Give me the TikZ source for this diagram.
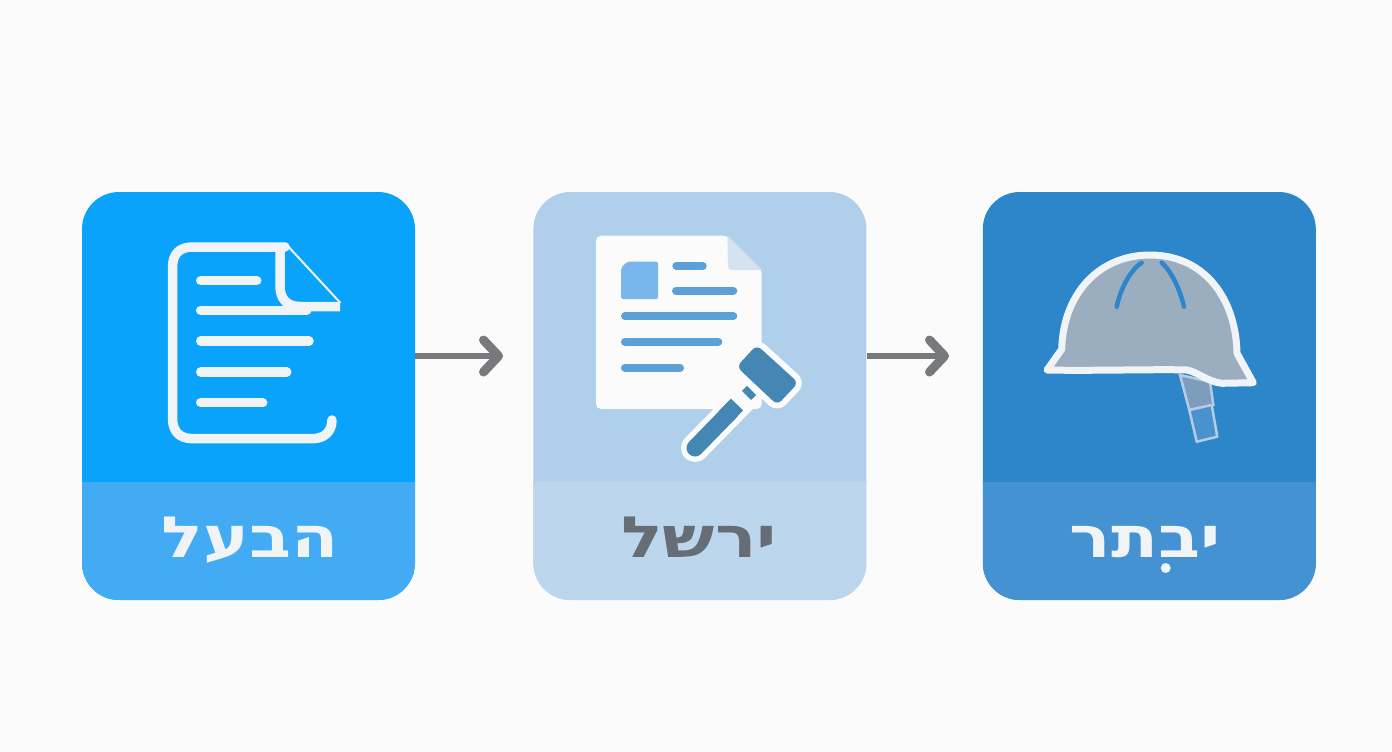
\documentclass[tikz,border=0pt]{standalone}
\usepackage{fontspec}
\usetikzlibrary{arrows.meta,positioning}
\newfontfamily\hebfont[Script=Hebrew,FakeStretch=1.21]{DejaVu Sans}
\TeXXeTstate=1
\definecolor{pagebg}{HTML}{FBFBFC}
\definecolor{cardone}{HTML}{0AA3FB}
\definecolor{bandone}{HTML}{42ABF3}
\definecolor{cardtwo}{HTML}{AFCFEA}
\definecolor{bandtwo}{HTML}{BCD6EE}
\definecolor{cardthree}{HTML}{2D86C9}
\definecolor{bandthree}{HTML}{4592D2}
\definecolor{paleline}{HTML}{F1F4F6}
\definecolor{paperline}{HTML}{5BA0D6}
\definecolor{paperbox}{HTML}{7AB6EE}
\definecolor{paperfold}{HTML}{D5E3F0}
\definecolor{hammerblue}{HTML}{4487B5}
\definecolor{helmetgrey}{HTML}{9AAEC0}
\definecolor{strapgrey}{HTML}{7E9CBC}
\definecolor{strapline}{HTML}{B5CCE6}
\definecolor{strapfill}{HTML}{4A92CE}
\definecolor{arrowgrey}{HTML}{77797D}
\definecolor{textgrey}{HTML}{666D75}
\tikzset{
  card/.style 2 args={rectangle,rounded corners=37pt,fill=#1,minimum width=333pt,minimum height=408pt,
    path picture={\fill[#2,sharp corners] ([yshift=118pt]path picture bounding box.south west) rectangle (path picture bounding box.south east);}},
  cardlabel/.style={font=\hebfont\bfseries\fontsize{57}{57}\selectfont,inner sep=0pt,anchor=base},
  flowarrow/.style={draw=arrowgrey,line width=6.5pt,-{Straight Barb[length=15pt,width=32pt,line width=9pt,round]}},
  iconline/.style={line width=9.5pt,line cap=round,draw=paleline},
  paperbar/.style={line width=8pt,line cap=round,draw=paperline},
}
\begin{document}
\begin{tikzpicture}[x=1pt,y=-1pt]
  \useasboundingbox[fill=pagebg] (0,0) rectangle (1392,752);
  \node[card={cardone}{bandone}] (act) at (248.5,396) {};
  \node[card={cardtwo}{bandtwo},right=118pt of act] (law) {};
  \node[card={cardthree}{bandthree},right=116pt of law] (vow) {};
  \node[cardlabel,text=paleline] (actlabel) at (250,557) {\beginR הבעל\endR};
  \node[cardlabel,text=textgrey] (lawlabel) at (699,557) {\beginR ירשל\endR};
  \node[cardlabel,text=paleline] (vowlabel) at (1145,557) {\beginR יבתר\endR};
  \fill[paleline] (1165.7,568) circle (5pt);
  % arrows
  \coordinate (acttip) at (503,356);
  \coordinate (lawtip) at (949,356);
  \draw[flowarrow] (act.east |- acttip) -- (acttip);
  \draw[flowarrow] (law.east |- lawtip) -- (lawtip);
  % first icon
  \draw[iconline,line join=round] (332,420) .. controls (332,432) and (324,438.7) .. (312,438.7)
    -- (193,438.7) .. controls (179,438.7) and (172.5,431) .. (172.5,418) -- (172.5,268)
    .. controls (172.5,254) and (179,247) .. (193,247) -- (285,247);
  \draw[iconline,line cap=butt] (280,247) -- (280,286) .. controls (280,299) and (287,306.5) .. (300,306.5) -- (340,306.5);
  \draw[paleline,line width=2pt] (285,243) -- (340.5,303);
  \foreach \ya/\xa in {280.7/256.7,310.3/306.7,341/309,372/286.7,402.7/262.7} {
    \draw[iconline] (200.7,\ya) -- (\xa,\ya);
  }
  % second icon
  \fill[pagebg,rounded corners=5pt] (596,235.7) -- (727.3,235.7) -- (761.7,270) -- (761.7,409) -- (596,409) -- cycle;
  \fill[paperfold] (727.3,235.7) -- (761.7,270) -- (733,270) .. controls (729,270) and (728,268) .. (728,264) -- cycle;
  \fill[paperbox,rounded corners=2pt] (627,261.7) -- (658,261.7) -- (658,299) -- (621,299) -- (621,268) -- cycle;
  \foreach \xa/\xb/\ya in {676.3/702.7/266,676/733.3/290.7,625/733.3/316.3,625/718.3/341.7,625/680/367.7} {
    \draw[paperbar] (\xa,\ya) -- (\xb,\ya);
  }
  % hammer
  \draw[pagebg,line width=28pt,line cap=round] (695,448) -- (742,400);
  \draw[hammerblue,line width=17pt,line cap=round] (695,448) -- (730,412);
  \draw[hammerblue,line width=17pt] (725,417) -- (737,404.5);
  \draw[pagebg,line width=20pt] (742,400) -- (754,388);
  \draw[hammerblue,line width=13pt] (746.5,395.5) -- (751.5,390.5);
  \draw[pagebg,line width=12pt,line join=round,rounded corners=6pt,fill=pagebg]
    (756.7,345) -- (798.3,382.7) -- (777.3,405) -- (736.7,366.7) -- cycle;
  \fill[hammerblue,rounded corners=6pt] (756.7,345) -- (798.3,382.7) -- (777.3,405) -- (736.7,366.7) -- cycle;
  % third icon
  \draw[strapline,fill=strapgrey,line width=2.5pt] (1180,375) -- (1210,381.7) -- (1213.3,405) -- (1189.3,410) -- cycle;
  \draw[strapline,fill=strapfill,line width=2.5pt,line join=round] (1189.3,410) -- (1211.7,405) -- (1217.3,436.7) -- (1196.7,441.7) -- cycle;
  \draw[paleline,fill=helmetgrey,line width=7pt,line join=round] (1047,370) -- (1061.7,349.3)
    .. controls (1063,295) and (1098,255) .. (1150,255)
    .. controls (1204,255) and (1236,298) .. (1237,353.3) -- (1253.3,382.7)
    -- (1222,383.3) .. controls (1208,382) and (1198,372) .. (1186.7,370)
    .. controls (1160,369) and (1090,371) .. cycle;
  \draw[cardthree,line width=4.5pt,line cap=round] (1116.7,306.7) .. controls (1120,290) and (1130,270) .. (1141.7,262.7);
  \draw[cardthree,line width=4.5pt,line cap=round] (1184,306.7) .. controls (1180,290) and (1172,272) .. (1161.7,262.7);
\end{tikzpicture}
\end{document}
